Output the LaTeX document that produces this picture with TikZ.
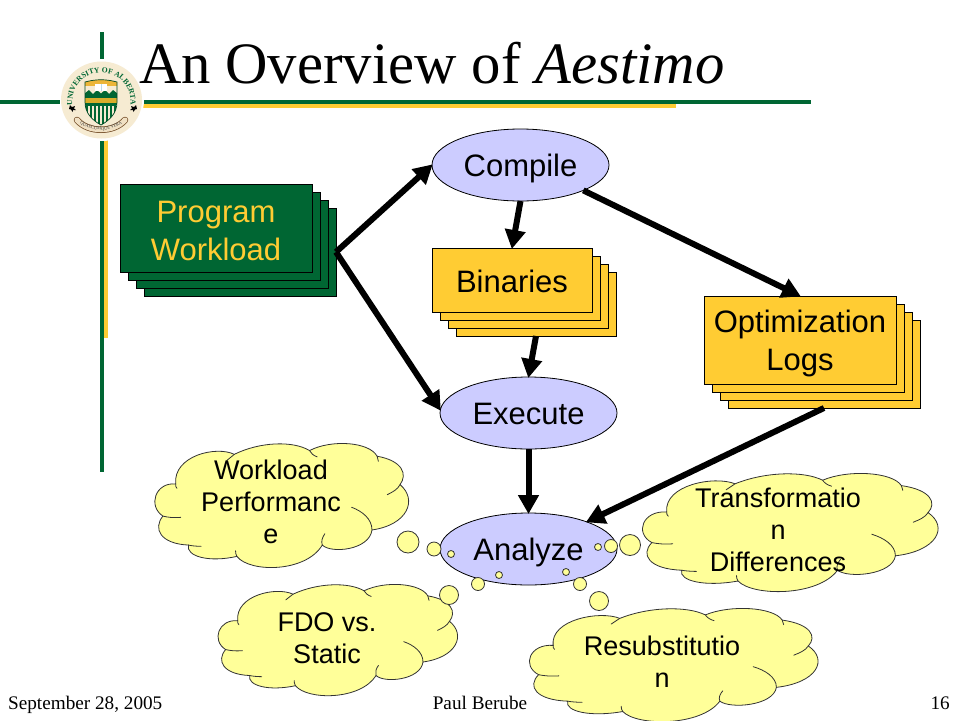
\documentclass[tikz,border=0pt]{standalone}
\usepackage{fontspec}
\setmainfont{Liberation Sans}
\newfontfamily\seriffam{Liberation Serif}
\usetikzlibrary{shapes.geometric,arrows.meta,decorations.text}
\definecolor{uagreen}{HTML}{006633}
\definecolor{uagold}{HTML}{FFCC33}
\definecolor{lilac}{HTML}{CCCCFF}
\definecolor{cloudy}{HTML}{FFFF99}
\definecolor{cream}{HTML}{F6EBD2}
\newcommand{\dn}[2]{\raisebox{-#1pt}[\height][\depth]{#2}}
\tikzset{
  layerbox/.style={draw=black,line width=0.9pt,minimum width=192pt,minimum height=88pt,inner sep=0pt,outer sep=0pt,anchor=north west,align=center},
  greenbox/.style={layerbox,fill=uagreen,text=uagold},
  goldbox/.style={layerbox,fill=uagold,text=black},
  oval/.style={shape=ellipse,draw=black,line width=0.8pt,fill=lilac,minimum width=177pt,minimum height=72pt,inner sep=0pt,outer sep=0pt},
  flow/.style={line width=6pt,-{Triangle[width=20pt,length=19pt]},shorten >=-1pt},
  big/.style={font=\fontsize{31}{38}\selectfont},
  cloudtext/.style={font=\fontsize{27}{32}\selectfont,align=center,text=black},
  puff/.style={draw=black!80,line width=0.8pt,fill=cloudy},
  footer/.style={font=\seriffam\fontsize{19.2}{22}\selectfont},
}
% #1,#2 = top left of the cloud; #3,#4 = horizontal and vertical scale
\newcommand{\cloudfig}[4]{%
  \begin{scope}[shift={(#1,#2)},x=#3pt,y=-#4pt]
    \draw[puff] (9,32.5) .. controls (8,10) and (25,2) .. (32,9)
      .. controls (42,-1) and (55,-2) .. (61.5,6)
      .. controls (70,-3) and (85,-1) .. (88,10.5)
      .. controls (98,14) and (100,25) .. (97,33)
      .. controls (104,45) and (100,65) .. (86,69)
      .. controls (85,85) and (70,88) .. (66.5,81)
      .. controls (60,103) and (38,103) .. (33,90)
      .. controls (22,95) and (13,90) .. (14,81)
      .. controls (3,80) and (0,68) .. (4,58)
      .. controls (-2,50) and (1,31) .. (9,32.5) -- cycle;
    \draw[draw=black!80,line width=0.8pt,line cap=round]
      (9,32.5) .. controls (9,34) and (9,35) .. (9.5,36)
      (32,9) .. controls (31,11) and (30,12) .. (29,14)
      (61.5,6) .. controls (62,8) and (63,10) .. (64.5,11)
      (88,10.5) .. controls (88.5,12) and (88.5,13) .. (88.5,14.5)
      (97,33) .. controls (96,37) and (94,39) .. (92,41)
      (86,69) .. controls (86,60) and (82,54) .. (78,51)
      (66.5,81) .. controls (66,78) and (66.5,75) .. (67.5,72)
      (33,90) .. controls (32.5,88) and (32.5,87) .. (32.5,85.5)
      (14,81) .. controls (15,81.5) and (17,82) .. (19,82)
      (4,58) .. controls (6,59) and (8,59.5) .. (11,59);
  \end{scope}}
\begin{document}
\begin{tikzpicture}[x=1pt,y=-1pt]
\useasboundingbox (0,0) rectangle (960,720);
\fill[white] (0,0) rectangle (960,720);

% frame lines
\fill[uagold] (143,104) rectangle (676,108);
\fill[uagold] (104,136) rectangle (108,338);
\fill[uagreen] (0,100) rectangle (811,104);
\fill[uagreen] (100,32) rectangle (104,472);

% crest
\fill[white] (102,100) ellipse [x radius=42,y radius=41];
\fill[cream] (101.5,100) ellipse [x radius=40.5,y radius=38.5];
\path[decorate,decoration={text along path,text align=center,
  text color=uagreen,
  text={|\seriffam\bfseries\fontsize{7.6}{8}\selectfont|UNIVERSITY OF ALBERTA}}]
  (73,111) .. controls (64,60) and (139,60) .. (130,111);
\begin{scope}
  \clip (85,82) .. controls (96,79) and (106,79) .. (117,82) -- (117,102)
        .. controls (117,113) and (110,120) .. (101,125)
        .. controls (92,120) and (85,113) .. (85,102) -- cycle;
  \fill[cream] (83,78) rectangle (119,127);
  \fill[uagold!70!brown] (83,78) rectangle (119,86);
  \fill[uagreen] (85,103) rectangle (117,126);
  \foreach \sx in {88,92,96,100,104,108,112}{\fill[cream] (\sx,106) rectangle (\sx+1.6,126);}
  \fill[uagreen] (84,98) -- (84,94) -- (89,90) -- (93,94) -- (97,90) -- (101,93.5) -- (105,90) -- (109,94) -- (113,90) -- (118,94) -- (118,98) -- cycle;
  \fill[uagold!85!black] (84,98) -- (118,98) -- (118,103) -- (84,103) -- cycle;
  \fill[white] (95,84) rectangle (107,91);
  \fill[black!25!cyan!30] (101,84) rectangle (102,91);
\end{scope}
\draw[uagreen!70!black,line width=0.7pt] (85,82) .. controls (96,79) and (106,79) .. (117,82) -- (117,102)
        .. controls (117,113) and (110,120) .. (101,125)
        .. controls (92,120) and (85,113) .. (85,102) -- cycle;
\draw[brown!60!black,line width=6.5pt,line cap=round] (77,120) .. controls (88,133) and (114,133) .. (125,120);
\draw[cream!90!brown,line width=5pt,line cap=round] (77,120) .. controls (88,133) and (114,133) .. (125,120);
\path[decorate,decoration={text along path,text align=center,text color=black!75,
  text={|\seriffam\fontsize{4.5}{5}\selectfont|QUAECUMQUE VERA}}]
  (75,118.5) .. controls (88,134) and (114,134) .. (127,118.5);
\fill[black] (70,105) -- (72,107) -- (75,106) -- (74,108.5) -- (76,110) -- (73,110) -- (72.5,112) -- (71,109.5) -- (69,109) -- cycle;
\fill[black] (136,105) -- (134,107) -- (131,106) -- (132,108.5) -- (130,110) -- (133,110) -- (133.5,112) -- (135,109.5) -- (137,109) -- cycle;

% title
\node[anchor=base west,inner sep=0pt,font=\seriffam\fontsize{58.7}{60}\selectfont] (title) at (139,83) {An Overview of \textit{Aestimo}};

% stacks
\node[greenbox] (prog3) at (144,208) {};
\node[greenbox] (prog2) at (136,200) {};
\node[greenbox] (prog1) at (128,192) {};
\node[greenbox,big] (prog) at (120,184) {\dn{3}{Program}\\\dn{3}{Workload}};

\node[goldbox,minimum width=160pt,minimum height=64pt] (bin3) at (456,272) {};
\node[goldbox,minimum width=160pt,minimum height=64pt] (bin2) at (448,264) {};
\node[goldbox,minimum width=160pt,minimum height=64pt] (bin1) at (440,256) {};
\node[goldbox,minimum width=160pt,minimum height=64pt,big] (bin) at (432,248) {\dn{1}{Binaries}};

\node[goldbox] (logs3) at (728,320) {};
\node[goldbox] (logs2) at (720,312) {};
\node[goldbox] (logs1) at (712,304) {};
\node[goldbox,big] (logs) at (704,296) {\dn{3}{Optimization}\\\dn{3.5}{Logs}};

% ovals
\node[oval,big] (compile) at (520.5,165) {\dn{3}{Compile}};
\node[oval,big] (execute) at (528.5,413) {\dn{1}{Execute}};
\node[oval,big] (analyze) at (528.5,549) {\dn{3}{Analyze}};

% connectors
\draw[flow] (prog3.east) -- (compile.west);
\draw[flow] (prog3.east) -- (execute.178);
\draw[flow] (compile.south) -- (bin.north);
\draw[flow] (bin3.south) -- (execute.north);
\draw[flow] (compile.-22) -- (logs.north);
\draw[flow] (execute.south) -- (analyze.north);
\draw[flow] (logs3.south) -- (analyze.25);

% clouds
\cloudfig{152.7}{443}{2.55}{1.26}
\cloudfig{216}{584}{2.407}{1.13}
\cloudfig{640}{473}{2.97}{1.2}
\cloudfig{527}{608}{2.9}{1.15}

% thought bubbles
\foreach \bx/\by/\br in {408/542/11,434/549/7,451/554/3.5,449/595/9.5,478/584/6.5,499/575/3.5,
  566/572/3.5,580/584/6.5,599/601/9.5,598/547/3.5,611/546/6.5,630/545/10.5}{
  \draw[puff] (\bx,\by) circle (\br);
}

% cloud labels
\node[cloudtext] (wperf) at (271,502) {Workload\\Performanc\\e};
\node[cloudtext] (fdo) at (327,638) {FDO vs.\\Static};
\node[cloudtext] (trans) at (778,530) {Transformatio\\n\\Differences};
\node[cloudtext] (resub) at (662,662) {Resubstitutio\\n};

% footer
\node[footer,anchor=base west,inner sep=0pt] (fdate) at (8,709) {September 28, 2005};
\node[footer,anchor=base,inner sep=0pt] (fauthor) at (480,709) {Paul Berube};
\node[footer,anchor=base east,inner sep=0pt] (fpage) at (950,709) {16};
\end{tikzpicture}
\end{document}
